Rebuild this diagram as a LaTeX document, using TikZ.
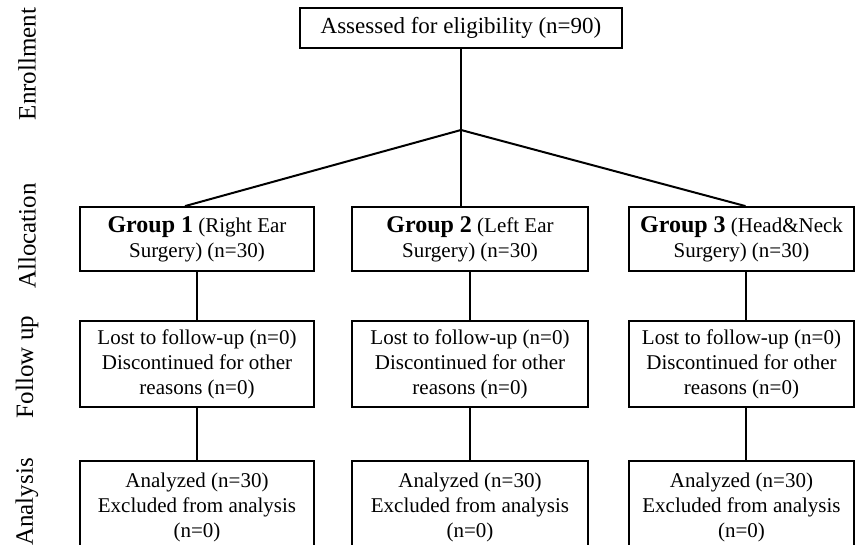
\documentclass[tikz,border=0pt]{standalone}
\usepackage{fontspec}
\setmainfont{Liberation Serif}
\begin{document}
\begin{tikzpicture}[x=1pt,y=1pt,
  box/.style={draw=black, line width=1.8pt, align=center, inner sep=0pt,
    font=\fontsize{21}{25}\selectfont},
  side/.style={rotate=90, font=\fontsize{25}{28}\selectfont, inner sep=0pt},
  conn/.style={line width=2pt}]
\useasboundingbox (0,0) rectangle (855,-545);
\clip (0,0) rectangle (855,-545);
% side labels
\node[side] (lenr) at (27,-64) {Enrollment};
\node[side] (lall) at (27,-236) {Allocation};
\node[side] (lfol) at (27,-367) {Follow up};
\node[side] (lana) at (27,-502) {Analysis};
% top
\node[box, minimum width=322, minimum height=40, font=\fontsize{23}{26}\selectfont] (top) at (461,-28) {Assessed for eligibility (n=90)};
\coordinate (apex) at (461,-130);
% allocation
\node[box, minimum width=234, minimum height=64] (g1) at (197,-239) {{\bfseries\fontsize{24}{25}\selectfont Group 1} (Right Ear\\Surgery) (n=30)};
\node[box, minimum width=236, minimum height=64] (g2) at (470,-239) {{\bfseries\fontsize{24}{25}\selectfont Group 2} (Left Ear\\Surgery) (n=30)};
\node[box, minimum width=225, minimum height=64] (g3) at (741.5,-239) {{\bfseries\fontsize{24}{25}\selectfont Group 3} (Head\&Neck\\Surgery) (n=30)};
% follow up
\node[box, minimum width=234, minimum height=86] (f1) at (197,-364) {Lost to follow-up (n=0)\\Discontinued for other\\reasons (n=0)};
\node[box, minimum width=236, minimum height=86] (f2) at (470,-364) {Lost to follow-up (n=0)\\Discontinued for other\\reasons (n=0)};
\node[box, minimum width=225, minimum height=86] (f3) at (741.5,-364) {Lost to follow-up (n=0)\\Discontinued for other\\reasons (n=0)};
% analysis
\node[box, minimum width=234, minimum height=92] (a1) at (197,-507) {Analyzed (n=30)\\Excluded from analysis\\(n=0)};
\node[box, minimum width=236, minimum height=92] (a2) at (470,-507) {Analyzed (n=30)\\Excluded from analysis\\(n=0)};
\node[box, minimum width=225, minimum height=92] (a3) at (741.5,-507) {Analyzed (n=30)\\Excluded from analysis\\(n=0)};
% connectors
\draw[conn] (top.south) -- (apex);
\draw[conn] (apex) -- ([xshift=-12pt]g1.north);
\draw[conn] (apex) -- (apex |- g2.north);
\draw[conn] (apex) -- ([xshift=4pt]g3.north);
\draw[conn] (g1.south) -- (f1.north);
\draw[conn] (g2.south) -- (f2.north);
\draw[conn] ([xshift=4pt]g3.south) -- ([xshift=4pt]f3.north);
\draw[conn] (f1.south) -- (a1.north);
\draw[conn] (f2.south) -- (a2.north);
\draw[conn] ([xshift=4pt]f3.south) -- ([xshift=4pt]a3.north);
\end{tikzpicture}
\end{document}
